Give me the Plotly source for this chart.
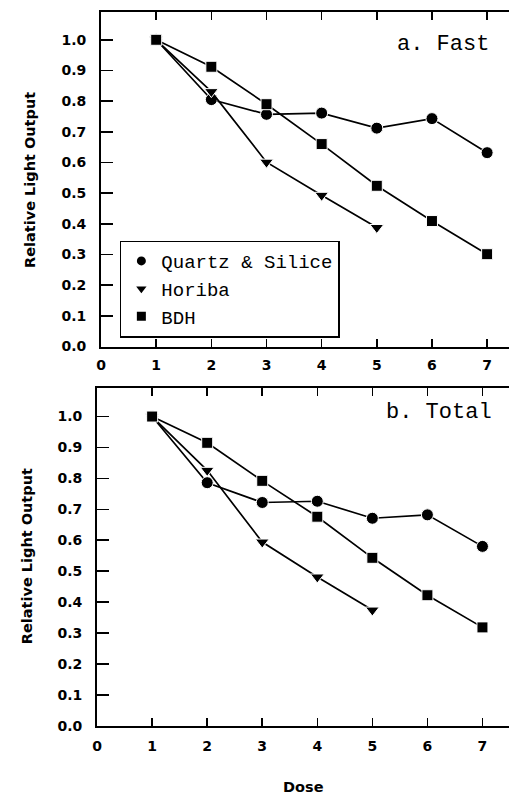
import plotly.graph_objects as go

# ---- data ----
dose = [1, 2, 3, 4, 5, 6, 7]
dose_horiba = [1, 2, 3, 4, 5]

fast_quartz = [1.00, 0.805, 0.757, 0.761, 0.712, 0.743, 0.632]
fast_horiba = [1.00, 0.831, 0.601, 0.493, 0.388]
fast_bdh = [1.00, 0.912, 0.790, 0.660, 0.524, 0.409, 0.301]

total_quartz = [1.00, 0.786, 0.722, 0.726, 0.671, 0.682, 0.580]
total_horiba = [1.00, 0.826, 0.594, 0.481, 0.374]
total_bdh = [1.00, 0.915, 0.792, 0.676, 0.543, 0.422, 0.318]

series_names = ["Quartz & Silice", "Horiba", "BDH"]
panel_labels = ["a. Fast", "b. Total"]
y_tickvals = [0.0, 0.1, 0.2, 0.3, 0.4, 0.5, 0.6, 0.7, 0.8, 0.9, 1.0]
y_ticktext = ["0.0", "0.1", "0.2", "0.3", "0.4", "0.5", "0.6", "0.7", "0.8", "0.9", "1.0"]
x_tickvals = [0, 1, 2, 3, 4, 5, 6, 7]
x_ticktext = ["0", "1", "2", "3", "4", "5", "6", "7"]

W, H = 509, 803
symbols = ["circle", "triangle-down", "square"]
msize = [12, 12, 11]
MONO = "Liberation Mono"
SANS = "DejaVu Sans"

fig = go.Figure()

panels = [
    ("x", "y", [fast_quartz, fast_horiba, fast_bdh]),
    ("x2", "y2", [total_quartz, total_horiba, total_bdh]),
]
for xa, ya, ys in panels:
    xs = [dose, dose_horiba, dose]
    for i in range(3):
        fig.add_trace(go.Scatter(
            x=xs[i], y=ys[i], xaxis=xa, yaxis=ya, mode="lines+markers",
            line=dict(color="black", width=1.7),
            marker=dict(symbol=symbols[i], size=msize[i], color="black",
                        line=dict(color="white", width=1)),
            showlegend=False, hoverinfo="skip"))

# legend-only entries (markers only)
for i in range(3):
    fig.add_trace(go.Scatter(
        x=[None], y=[None], xaxis="x", yaxis="y", mode="markers",
        name=series_names[i],
        marker=dict(symbol=symbols[i], size=9, color="black"),
        showlegend=True, hoverinfo="skip"))


def px_x(p):
    return p / W


def px_y(p):
    return 1 - p / H


axis_common = dict(showgrid=False, zeroline=False, showline=True,
                   linecolor="black", linewidth=2, ticks="inside",
                   tickcolor="black", tickwidth=1.5)
tickfont = dict(family=SANS, size=14, color="black", weight="bold")

# panel geometry (window pixels)
t_left, t_top, t_bot = 97, 12, 350
b_left, b_top, b_bot = 93, 392, 733
unit_t = 55.7
unit_b = 55.6
yr_top = [0, 1.091]
yr_bot = [0, 1.092]

fig.update_layout(
    width=W, height=H,
    margin=dict(l=0, r=0, t=0, b=0),
    paper_bgcolor="white", plot_bgcolor="white",
    hovermode=False,
    xaxis=dict(**axis_common, domain=[px_x(t_left), 1.0],
               range=[0, (W - t_left) / unit_t], anchor="y",
               tickvals=x_tickvals, ticktext=x_ticktext, ticklen=8,
               mirror="ticks", tickfont=tickfont, ticklabelstandoff=5),
    yaxis=dict(**axis_common, domain=[px_y(t_bot), px_y(t_top)],
               range=yr_top, anchor="x",
               tickvals=y_tickvals, ticktext=y_ticktext, ticklen=12,
               tickfont=tickfont, ticklabelstandoff=10),
    yaxis3=dict(showgrid=False, zeroline=False, showline=False,
                overlaying="y", side="right", anchor="x",
                range=yr_top, tickvals=y_tickvals, ticks="inside",
                ticklen=11, tickwidth=1.5, tickcolor="black",
                showticklabels=False),
    xaxis2=dict(**axis_common, domain=[px_x(b_left), 1.0],
                range=[0, (W - b_left) / unit_b], anchor="y2",
                tickvals=x_tickvals, ticktext=x_ticktext, ticklen=8,
                mirror="ticks", tickfont=tickfont, ticklabelstandoff=7),
    yaxis2=dict(**axis_common, domain=[px_y(b_bot), px_y(b_top)],
                range=yr_bot, anchor="x2",
                tickvals=y_tickvals, ticktext=y_ticktext, ticklen=12,
                tickfont=tickfont, ticklabelstandoff=10),
    yaxis4=dict(showgrid=False, zeroline=False, showline=False,
                overlaying="y2", side="right", anchor="x2",
                range=yr_bot, tickvals=y_tickvals, ticks="inside",
                ticklen=11, tickwidth=1.5, tickcolor="black",
                showticklabels=False),
    legend=dict(x=px_x(116), y=px_y(243), xanchor="left", yanchor="top",
                bordercolor="black", borderwidth=1.5, bgcolor="white",
                font=dict(family=MONO, size=19, color="black"),
                itemwidth=30, tracegroupgap=0),
    showlegend=True,
)

label_font = dict(family=SANS, size=14.5, color="black", weight="bold")
annotations = [
    dict(text=panel_labels[0], x=px_x(491), y=px_y(45), xref="paper", yref="paper",
         xanchor="right", yanchor="middle", showarrow=False,
         font=dict(family=MONO, size=22, color="black")),
    dict(text=panel_labels[1], x=px_x(494), y=px_y(417), xref="paper", yref="paper",
         xanchor="right", yanchor="middle", showarrow=False,
         font=dict(family=MONO, size=22, color="black")),
    dict(text="Relative Light Output", x=px_x(25), y=px_y(182), xref="paper", yref="paper",
         xanchor="center", yanchor="middle", textangle=-90, showarrow=False,
         font=label_font),
    dict(text="Relative Light Output", x=px_x(23), y=px_y(562), xref="paper", yref="paper",
         xanchor="center", yanchor="middle", textangle=-90, showarrow=False,
         font=label_font),
    dict(text="Dose", x=px_x(301), y=px_y(795), xref="paper", yref="paper",
         xanchor="center", yanchor="middle", showarrow=False,
         font=label_font),
]
fig.update_layout(annotations=annotations)

# remove the page's default body margin so the figure fills the window exactly
fig.write_html(
    "out.html",
    config={"displayModeBar": False, "staticPlot": True},
    post_script="document.body.style.margin='0';"
                "document.documentElement.style.overflow='hidden';",
)
